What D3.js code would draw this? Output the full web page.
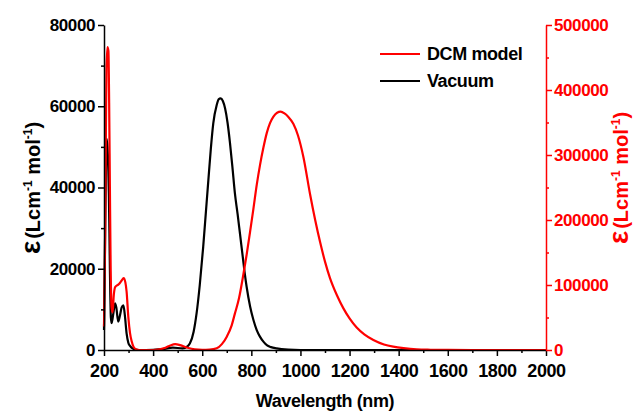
<!DOCTYPE html>
<html>
<head>
<meta charset="utf-8">
<script src="https://cdn.jsdelivr.net/npm/d3@7/dist/d3.min.js"></script>
<style>
  body { margin: 0; background: #fff; }
  text { font-family: "Liberation Sans", Arial, sans-serif; font-weight: bold; }
</style>
</head>
<body>
<div id="chart"></div>
<script>
const vacuumWl  = [200, 204, 208, 211, 214, 217, 220, 224, 228, 231, 238, 245, 250, 258, 265, 272, 279, 285, 292, 299, 306, 319, 340,
                   400, 440, 480, 520, 540, 550, 565, 577, 590, 604, 615, 625, 635, 645, 659, 667, 675, 684, 693, 703, 713, 723, 733,
                   744, 754, 765, 774, 781, 795, 808, 822, 835, 850, 863, 880, 903, 950, 1000, 1200, 2000];
const vacuumEps = [4900, 25000, 45000, 52000, 50000, 46000, 38000, 20000, 8000, 6600, 9000, 11500, 10500, 7000, 8500, 10500, 11000, 8500, 4100, 1800, 1000, 300, 0,
                   50, 200, 600, 400, 900, 1650, 4500, 9000, 16000, 25400, 34000, 41800, 49500, 55800, 60300, 61700, 61950, 61300, 59500, 56000, 51000, 45000, 38600,
                   33500, 28500, 23000, 18500, 15500, 10700, 7500, 4900, 3300, 2000, 1200, 700, 400, 100, 0, 0, 0];

const dcmWl  = [200, 204, 207, 210, 214, 218, 221, 224, 227, 231, 235, 240, 246, 260, 272, 280, 287, 292, 299, 306, 313, 320, 332, 345,
                380, 420, 450, 470, 490, 510, 540, 570, 600, 630, 659, 680, 700, 720, 733, 750, 767, 781, 795, 808, 822, 836, 849, 863,
                876, 890, 905, 919, 935, 950, 971, 990, 1012, 1039, 1060, 1080, 1100, 1120, 1150, 1175, 1200, 1229, 1260, 1297, 1340,
                1378, 1420, 1473, 1530, 1600, 1700, 2000];
const dcmEps = [36000, 150000, 300000, 430000, 466000, 460000, 380000, 250000, 130000, 65000, 58000, 85000, 97000, 101000, 107000, 110700, 104000, 90000, 51000, 26000, 13000, 5000, 800, 0,
                0, 800, 3500, 7000, 9000, 7500, 3500, 1000, 300, 600, 2600, 9000, 20500, 38000, 56000, 80000, 115000, 147000, 182000, 216000, 254000, 286000, 311000, 334000,
                349000, 359000, 365000, 366600, 364000, 359000, 348000, 330000, 297000, 240000, 200000, 166000, 136000, 111000, 83000, 64000, 48500, 34500, 24000, 15400, 8500,
                5100, 2800, 1000, 400, 100, 0, 0];

const xTicks = [200, 400, 600, 800, 1000, 1200, 1400, 1600, 1800, 2000];
const leftTicks = [0, 20000, 40000, 60000, 80000];
const rightTicks = [0, 100000, 200000, 300000, 400000, 500000];
const legendNames = ["DCM model", "Vacuum"];
const legendColors = ["#ff0000", "#000000"];

let width = 635, height = 412;
let margin = {top: 25, right: 89, bottom: 62, left: 104};
let w = width - margin.left - margin.right;
let h = height - margin.top - margin.bottom;

let svg = d3.select("#chart")
    .append("svg")
    .attr("width", width)
    .attr("height", height);

let g = svg.append("g")
    .attr("transform", "translate(" + margin.left + "," + margin.top + ")");

let xScale = d3.scaleLinear().domain([200, 2000]).range([0, w]);
let yLeft = d3.scaleLinear().domain([0, 80000]).range([h, 0]);
let yRight = d3.scaleLinear().domain([0, 500000]).range([h, 0]);

function minors (ticks, step) {
    return ticks.slice(0, -1).map(t => t + step);
}

function styleAxis (sel, color, fontSize) {
    sel.select(".domain").attr("stroke", color).attr("stroke-width", 1.5);
    sel.selectAll(".tick line").attr("stroke", color).attr("stroke-width", 1.5);
    sel.selectAll(".tick text")
        .attr("fill", color)
        .style("font-size", fontSize + "px")
        .style("letter-spacing", "-0.4px");
}

// curves
let lineVac = d3.line()
    .x((d, i) => xScale(vacuumWl[i]))
    .y(d => yLeft(d))
    .curve(d3.curveMonotoneX);

let lineDcm = d3.line()
    .x((d, i) => xScale(dcmWl[i]))
    .y(d => yRight(d))
    .curve(d3.curveMonotoneX);

g.append("path")
    .datum(vacuumEps)
    .attr("d", lineVac)
    .attr("fill", "none")
    .attr("stroke", "#000")
    .attr("stroke-width", 2.2);

g.append("path")
    .datum(dcmEps)
    .attr("d", lineDcm)
    .attr("fill", "none")
    .attr("stroke", "#ff0000")
    .attr("stroke-width", 2.2);

// bottom axis
let xaxis = g.append("g")
    .attr("transform", "translate(0," + h + ")")
    .call(d3.axisBottom(xScale).tickValues(xTicks).tickSize(6).tickSizeOuter(0).tickPadding(8).tickFormat(d3.format("d")));
styleAxis(xaxis, "#000", 18);

let xminor = g.append("g")
    .attr("transform", "translate(0," + h + ")")
    .call(d3.axisBottom(xScale).tickValues(minors(xTicks, 100)).tickSize(3).tickFormat(""));
xminor.select(".domain").remove();
xminor.selectAll(".tick line").attr("stroke-width", 1.5);

// left axis
let yaxis = g.append("g")
    .call(d3.axisLeft(yLeft).tickValues(leftTicks).tickSize(6).tickSizeOuter(0).tickPadding(3).tickFormat(d3.format("d")));
styleAxis(yaxis, "#000", 17);

let yminor = g.append("g")
    .call(d3.axisLeft(yLeft).tickValues(minors(leftTicks, 10000)).tickSize(3).tickFormat(""));
yminor.select(".domain").remove();
yminor.selectAll(".tick line").attr("stroke-width", 1.5);

// right axis
let raxis = g.append("g")
    .attr("transform", "translate(" + w + ",0)")
    .call(d3.axisRight(yRight).tickValues(rightTicks).tickSize(6).tickSizeOuter(0).tickPadding(2).tickFormat(d3.format("d")));
styleAxis(raxis, "#ff0000", 17);

let rminor = g.append("g")
    .attr("transform", "translate(" + w + ",0)")
    .call(d3.axisRight(yRight).tickValues(minors(rightTicks, 50000)).tickSize(3).tickFormat(""));
rminor.select(".domain").remove();
rminor.selectAll(".tick line").attr("stroke", "#ff0000").attr("stroke-width", 1.5);

// axis titles
svg.append("text")
    .attr("x", margin.left + w / 2)
    .attr("y", 407)
    .attr("text-anchor", "middle")
    .style("font-size", "18px")
    .style("letter-spacing", "-0.4px")
    .text("Wavelength (nm)");

function epsLabel (x, y, color) {
    let t = svg.append("text")
        .attr("transform", "translate(" + x + "," + y + ")rotate(-90)")
        .attr("text-anchor", "middle")
        .attr("fill", color)
        .style("font-size", "20px");
    t.append("tspan").style("font-size", "28px").text("\u03B5");
    t.append("tspan").attr("dx", 2).text("(Lcm");
    t.append("tspan").attr("dy", -8).style("font-size", "12px").text("-1");
    t.append("tspan").attr("dy", 8).text(" mol");
    t.append("tspan").attr("dy", -8).style("font-size", "12px").text("-1");
    t.append("tspan").attr("dy", 8).text(")");
}
epsLabel(40, 188, "#000");
epsLabel(628, 178, "#ff0000");

// legend
let legend = svg.append("g")
    .selectAll("g")
    .data(legendNames)
    .join("g")
    .attr("transform", (d, i) => "translate(380," + (54 + i * 27) + ")");

legend.append("line")
    .attr("x1", 0).attr("x2", 40)
    .attr("stroke", (d, i) => legendColors[i])
    .attr("stroke-width", 2);

legend.append("text")
    .attr("x", 47)
    .attr("y", 6)
    .style("font-size", "18px")
    .style("letter-spacing", "-0.4px")
    .text(d => d);
</script>
</body>
</html>
